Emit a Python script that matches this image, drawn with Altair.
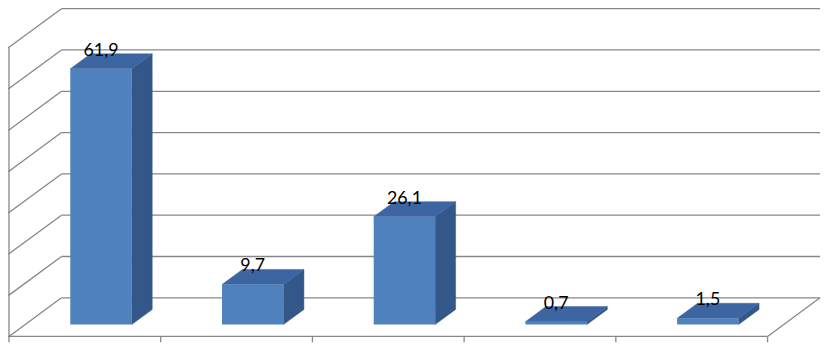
import altair as alt
import pandas as pd

# ---- data ----
categories = ["1", "2", "3", "4", "5"]
values = [61.9, 9.7, 26.1, 0.7, 1.5]
value_labels = ["61,9", "9,7", "26,1", "0,7", "1,5"]
value_ticks = [0, 10, 20, 30, 40, 50, 60, 70]

# ---- projection geometry (oblique 3-D look) ----
W, H = 824, 337
CAT_PX, VAL_PX = 153.2, 4.171          # px per category / per value unit
DEPTH_X_PX, DEPTH_Y_PX = 53.0, 39.0    # wall depth in px
ORIGIN_X, ORIGIN_Y = 1, 330            # front origin in plot px
dX = DEPTH_X_PX / CAT_PX
dY = DEPTH_Y_PX / VAL_PX
BAR_FRONT_D, BAR_DEPTH, BAR_W = 0.308, 0.39, 0.405
TICK_PX = 6
n = len(categories)
vmax = value_ticks[-1]

x_dom = [-ORIGIN_X / CAT_PX, (W - ORIGIN_X) / CAT_PX]
y_dom = [-(H - ORIGIN_Y) / VAL_PX, ORIGIN_Y / VAL_PX]

def P(c, v, d):
    return c + dX * d, v + dY * d

# grid / wall segments
segs = []
for v in value_ticks:
    a = P(0, v, 1); b = P(n, v, 1)
    segs.append((a[0], a[1], b[0], b[1]))          # back wall line
    a = P(0, v, 0); b = P(0, v, 1)
    segs.append((a[0], a[1], b[0], b[1]))          # left wall slant
    segs.append((-TICK_PX / CAT_PX, v, 0, v))     # left axis tick
segs.append((0, 0, 0, vmax))                         # front value axis
segs.append((0, 0, n, 0))                            # front floor edge
a = P(n, 0, 0); b = P(n, 0, 1)
segs.append((a[0], a[1], b[0], b[1]))              # right floor edge
for c in range(n + 1):
    segs.append((c, 0, c, -TICK_PX / VAL_PX))       # category ticks
seg_df = pd.DataFrame(segs, columns=["x", "y", "x2", "y2"])

front_rows, side_rows, top_rows, lab_rows = [], [], [], []
for i, (cat, v, lab) in enumerate(zip(categories, values, value_labels)):
    c0 = i + 0.5 - BAR_W / 2
    c1 = i + 0.5 + BAR_W / 2
    d0, d1 = BAR_FRONT_D, BAR_FRONT_D + BAR_DEPTH
    fx0, fy0 = P(c0, 0, d0)
    fx1, fy1 = P(c1, v, d0)
    front_rows.append(dict(bar=cat, x=fx0, x2=fx1, y=fy0, y2=fy1))
    for d in (d0, d1):
        xa, ylo = P(c1, 0, d)
        _, yhi = P(c1, v, d)
        side_rows.append(dict(bar=cat, x=xa, ylo=ylo, yhi=yhi))
        xl, yy = P(c0, v, d)
        xr, _ = P(c1, v, d)
        top_rows.append(dict(bar=cat, y=yy, xlo=xl, xhi=xr))
    lx, _ = P(i + 0.5, v, d0)
    _, ly = P(i + 0.5, v, d1)
    lab_rows.append(dict(bar=cat, x=lx, y=ly, label=lab))

front_df = pd.DataFrame(front_rows)
side_df = pd.DataFrame(side_rows)
top_df = pd.DataFrame(top_rows)
lab_df = pd.DataFrame(lab_rows)

xs = alt.Scale(domain=x_dom, nice=False, zero=False)
ys = alt.Scale(domain=y_dom, nice=False, zero=False)

GRID = "#878787"
grid = alt.Chart(seg_df).mark_rule(color=GRID, strokeWidth=1.3).encode(
    x=alt.X("x:Q", scale=xs, axis=None),
    y=alt.Y("y:Q", scale=ys, axis=None),
    x2="x2", y2="y2",
)

side = alt.Chart(side_df).mark_area(orient="vertical", color="#34578A",
                                    stroke="#34578A", strokeWidth=0.5).encode(
    x=alt.X("x:Q", scale=xs, axis=None),
    y=alt.Y("ylo:Q", scale=ys, axis=None),
    y2="yhi", detail="bar:N",
)

top = alt.Chart(top_df).mark_area(orient="horizontal", color="#3D65A1",
                                  stroke="#3D65A1", strokeWidth=0.5).encode(
    y=alt.Y("y:Q", scale=ys, axis=None),
    x=alt.X("xlo:Q", scale=xs, axis=None),
    x2="xhi", detail="bar:N",
)

front = alt.Chart(front_df).mark_rect(color="#4F81BD").encode(
    x=alt.X("x:Q", scale=xs, axis=None),
    x2="x2",
    y=alt.Y("y:Q", scale=ys, axis=None),
    y2="y2",
)

labels = alt.Chart(lab_df).mark_text(
    font="Lato", fontSize=18, color="#000000", baseline="alphabetic",
    align="center", dy=2,
).encode(
    x=alt.X("x:Q", scale=xs, axis=None),
    y=alt.Y("y:Q", scale=ys, axis=None),
    text="label:N",
)

chart = alt.layer(grid, side, top, front, labels).properties(
    width=W, height=H, autosize=alt.AutoSizeParams(type="none"), padding=0,
    background="white",
).configure_view(stroke=None)

chart.save("out.html", embed_options={"renderer": "svg", "actions": False})
